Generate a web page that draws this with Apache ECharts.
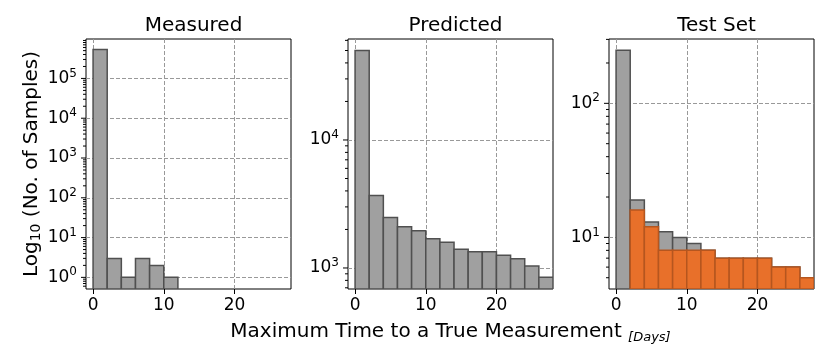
<!DOCTYPE html>
<html>
<head>
<meta charset="utf-8">
<script src="https://cdn.jsdelivr.net/npm/echarts@6/dist/echarts.min.js"></script>
<style>
  html, body { margin: 0; background: #fff; }
  #chart { width: 830px; height: 363px; }
</style>
</head>
<body>
<div id="chart"></div>
<script>
// histogram bins, 2 days wide, left edges
const binLefts = [0, 2, 4, 6, 8, 10, 12, 14, 16, 18, 20, 22, 24, 26];
const binWidth = 2;

// counts per bin
const measured = [530000, 3, 1, 3, 2, 1, 0, 0, 0, 0, 0, 0, 0, 0];
const predicted = [50000, 3690, 2480, 2100, 1950, 1690, 1590, 1400, 1340, 1340, 1255, 1180, 1035, 845];
const testAll = [249, 19, 13, 11, 10, 9, 8, 7, 7, 7, 7, 6, 6, 5];
const testSub = [0, 16, 12, 8, 8, 8, 8, 7, 7, 7, 7, 6, 6, 5];

const titles = ['Measured', 'Predicted', 'Test Set'];
const xTicks = [0, 10, 20];
const xRange = [-1, 28];
const yRanges = [[0.51, 9.8e5], [685, 61500], [4.12, 302]];

const grids = [
  { left: 86, top: 39, width: 205, height: 250 },
  { left: 348, top: 39, width: 205, height: 250 },
  { left: 609, top: 39, width: 205, height: 250 }
];

const GRAY = '#a0a0a0', GRAY_EDGE = '#505050';
const ORANGE = '#e8702a', ORANGE_EDGE = '#b5561f';
const FONT = 'DejaVu Sans';

var chart = echarts.init(document.getElementById('chart'));

function barRender (fill, stroke, yMin) {
  return function (params, api) {
    var x0 = api.value(0);
    var v = api.value(1);
    if (!(v > 0)) return null;
    var p0 = api.coord([x0, v]);
    var p1 = api.coord([x0 + binWidth, yMin]);
    return {
      type: 'rect',
      shape: { x: p0[0], y: p0[1], width: p1[0] - p0[0], height: p1[1] - p0[1] },
      style: { fill: fill, stroke: stroke, lineWidth: 1.5 }
    };
  };
}

// log tick marks (major + minor) on the left edge
function logTicks (range) {
  var out = [];
  var lo = Math.floor(Math.log10(range[0])), hi = Math.ceil(Math.log10(range[1]));
  for (var k = lo; k <= hi; k++) {
    for (var m = 1; m <= 9; m++) {
      var v = m * Math.pow(10, k);
      if (v >= range[0] && v <= range[1]) out.push([xRange[0], v, m === 1 ? 5 : 3]);
    }
  }
  return out;
}

function tickRender (params, api) {
  var p = api.coord([api.value(0), api.value(1)]);
  var len = api.value(2);
  return {
    type: 'line',
    shape: { x1: p[0] - len, y1: p[1], x2: p[0], y2: p[1] },
    style: { stroke: '#000', lineWidth: 1 }
  };
}

function logLabel (v) {
  var l = Math.log10(v);
  var e = Math.round(l);
  if (Math.abs(l - e) > 1e-6) return '';
  return '{b|10}{sup|' + e + '}';
}

var xAxes = [], yAxes = [], series = [], titleList = [];
var counts = [measured, predicted, testAll];

for (var i = 0; i < 3; i++) {
  titleList.push({
    text: titles[i],
    left: grids[i].left + grids[i].width / 2,
    top: 11,
    textAlign: 'center',
    textStyle: { fontFamily: FONT, fontSize: 20, fontWeight: 'normal', color: '#000' }
  });
  xAxes.push({
    type: 'value',
    gridIndex: i,
    min: xRange[0],
    max: xRange[1],
    axisLine: { show: false },
    axisTick: { show: true, length: 5, customValues: xTicks, lineStyle: { color: '#000' } },
    axisLabel: { customValues: xTicks, color: '#000', fontFamily: FONT, fontSize: 17, margin: 8 },
    splitLine: { show: true, lineStyle: { color: '#999', type: [4, 2], width: 1 } },
    name: i === 1 ? 'Maximum Time to a True Measurement {d|[Days]}' : '',
    nameLocation: 'middle',
    nameGap: 31,
    nameTextStyle: {
      fontFamily: FONT, fontSize: 20, color: '#000', lineHeight: 24,
      rich: { d: { fontFamily: FONT, fontSize: 13, fontStyle: 'italic', lineHeight: 13, verticalAlign: 'bottom', color: '#000' } }
    }
  });
  yAxes.push({
    type: 'log',
    logBase: 10,
    gridIndex: i,
    min: yRanges[i][0],
    max: yRanges[i][1],
    axisLine: { show: false },
    axisTick: { show: false },
    axisLabel: {
      formatter: logLabel,
      margin: 9,
      showMinLabel: false,
      showMaxLabel: false,
      rich: {
        b: { fontFamily: FONT, fontSize: 17, color: '#000', lineHeight: 22 },
        sup: { fontFamily: FONT, fontSize: 12, color: '#000', lineHeight: 10, verticalAlign: 'top' }
      }
    },
    splitLine: { show: true, showMinLine: false, showMaxLine: false, lineStyle: { color: '#999', type: [4, 2], width: 1 } },
    name: i === 0 ? 'Log{sub|10} (No. of Samples)' : '',
    nameLocation: 'middle',
    nameRotate: 90,
    nameGap: 42,
    nameTextStyle: {
      fontFamily: FONT, fontSize: 20, color: '#000', lineHeight: 24,
      rich: { sub: { fontFamily: FONT, fontSize: 14, lineHeight: 12, verticalAlign: 'bottom', color: '#000' } }
    }
  });
  series.push({
    type: 'custom',
    xAxisIndex: i,
    yAxisIndex: i,
    clip: true,
    renderItem: barRender(GRAY, GRAY_EDGE, yRanges[i][0]),
    encode: { x: 0, y: 1 },
    data: binLefts.map(function (x, j) { return [x, counts[i][j]]; })
  });
  if (i === 2) {
    series.push({
      type: 'custom',
      xAxisIndex: i,
      yAxisIndex: i,
      clip: true,
      renderItem: barRender(ORANGE, ORANGE_EDGE, yRanges[i][0]),
      encode: { x: 0, y: 1 },
      data: binLefts.map(function (x, j) { return [x, testSub[j]]; })
    });
  }
  series.push({
    type: 'custom',
    xAxisIndex: i,
    yAxisIndex: i,
    clip: false,
    silent: true,
    renderItem: tickRender,
    encode: { x: 0, y: 1 },
    data: logTicks(yRanges[i])
  });
}

chart.setOption({
  animation: false,
  backgroundColor: '#fff',
  title: titleList,
  grid: grids.map(function (g) {
    return Object.assign({ show: true, borderColor: '#000', borderWidth: 1, backgroundColor: 'transparent' }, g);
  }),
  xAxis: xAxes,
  yAxis: yAxes,
  series: series
});
</script>
</body>
</html>
